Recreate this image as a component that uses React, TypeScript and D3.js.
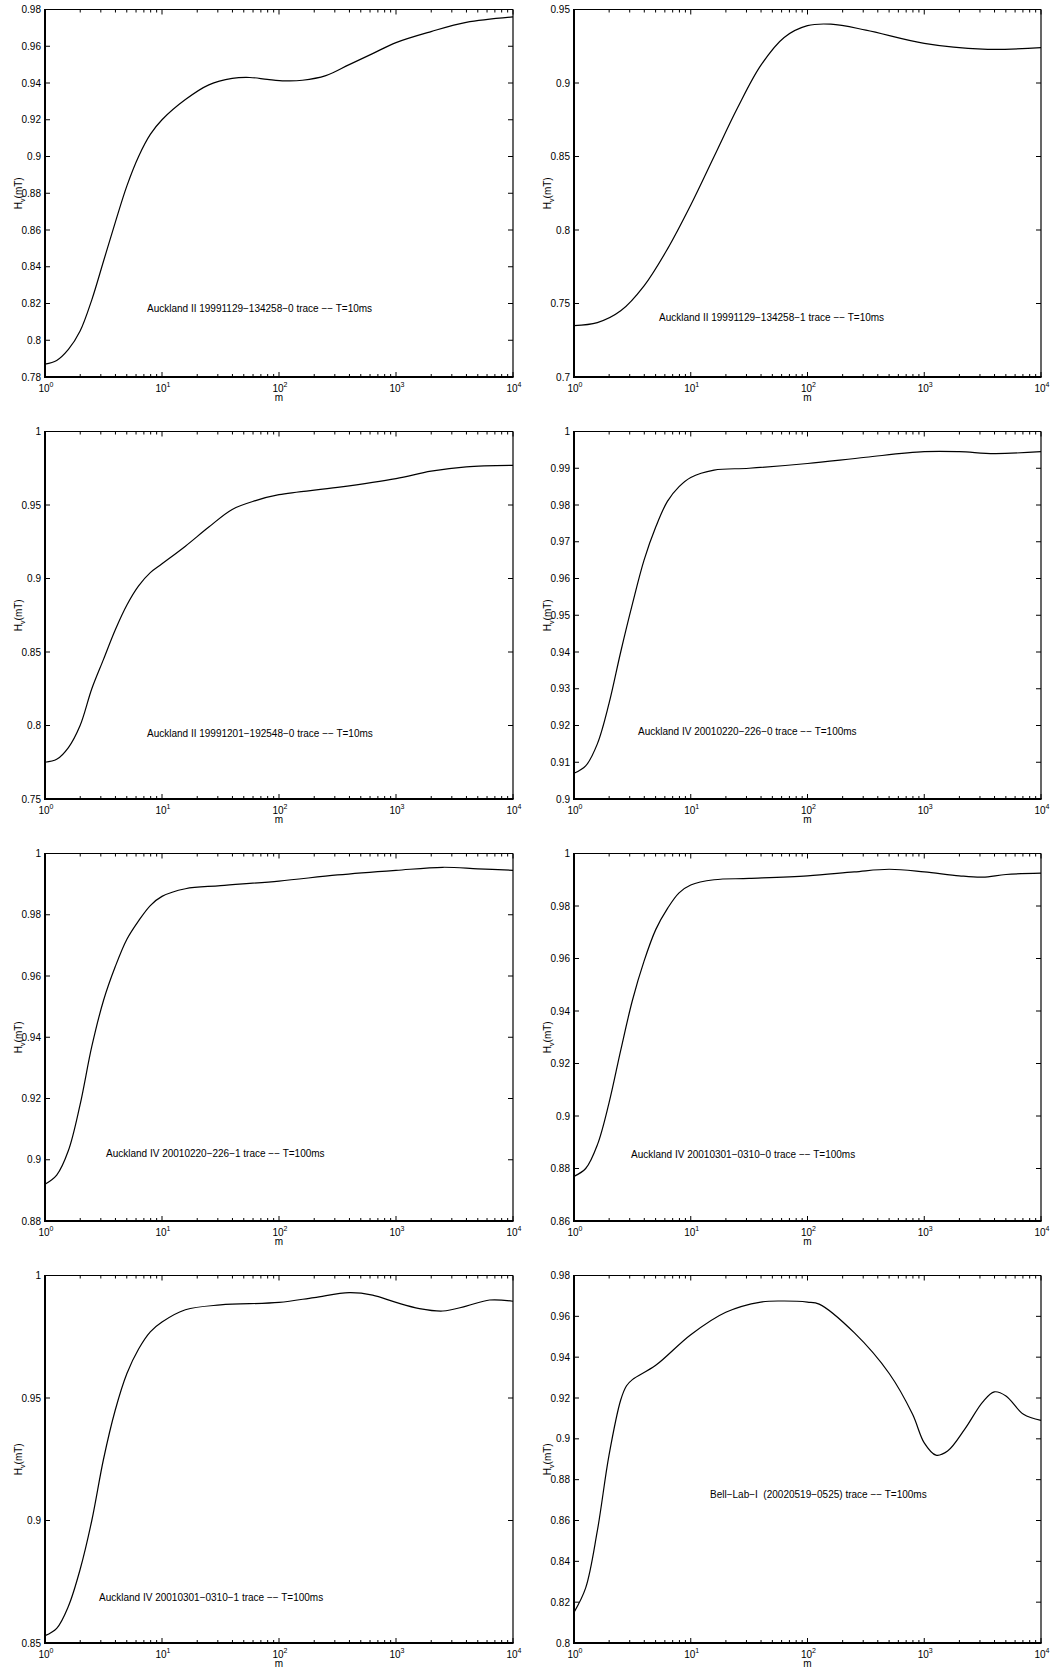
import React from "react";
import * as d3 from "d3";

// ---------- DATA ----------
// x positions given as exponents of m (m = 10^e)
const p1Exp = [0, 0.1, 0.2, 0.3, 0.4, 0.5, 0.6, 0.7, 0.8, 0.9, 1.0, 1.2, 1.4, 1.6, 1.75, 1.9, 2.05, 2.2, 2.4, 2.6, 2.8, 3.0, 3.3, 3.6, 4.0];
const p1Val = [0.787, 0.789, 0.795, 0.805, 0.822, 0.843, 0.864, 0.884, 0.900, 0.912, 0.920, 0.931, 0.939, 0.9425, 0.943, 0.942, 0.9412, 0.9415, 0.944, 0.950, 0.956, 0.962, 0.968, 0.973, 0.976];

const p2Exp = [0, 0.2, 0.4, 0.6, 0.8, 1.0, 1.2, 1.4, 1.6, 1.8, 2.0, 2.2, 2.5, 3.0, 3.5, 4.0];
const p2Val = [0.735, 0.737, 0.745, 0.762, 0.787, 0.817, 0.850, 0.883, 0.912, 0.931, 0.939, 0.940, 0.936, 0.927, 0.923, 0.924];

const p3Exp = [0, 0.1, 0.2, 0.3, 0.4, 0.5, 0.6, 0.7, 0.8, 0.9, 1.0, 1.2, 1.4, 1.6, 1.8, 2.0, 2.5, 3.0, 3.3, 3.6, 4.0];
const p3Val = [0.775, 0.777, 0.785, 0.800, 0.825, 0.845, 0.865, 0.882, 0.895, 0.904, 0.910, 0.922, 0.935, 0.947, 0.953, 0.957, 0.962, 0.968, 0.973, 0.976, 0.977];

const p4Exp = [0, 0.1, 0.2, 0.3, 0.4, 0.5, 0.6, 0.7, 0.8, 0.9, 1.0, 1.2, 1.5, 2.0, 2.5, 3.0, 3.3, 3.6, 4.0];
const p4Val = [0.907, 0.909, 0.915, 0.926, 0.940, 0.953, 0.965, 0.974, 0.981, 0.985, 0.9875, 0.9895, 0.990, 0.9913, 0.993, 0.9945, 0.9945, 0.994, 0.9945];

const p5Exp = [0, 0.1, 0.2, 0.3, 0.4, 0.5, 0.6, 0.7, 0.8, 0.9, 1.0, 1.2, 1.5, 2.0, 2.5, 3.0, 3.4, 3.7, 4.0];
const p5Val = [0.892, 0.895, 0.903, 0.918, 0.937, 0.952, 0.963, 0.972, 0.978, 0.983, 0.986, 0.9885, 0.9895, 0.991, 0.993, 0.9945, 0.9955, 0.995, 0.9945];

const p6Exp = [0, 0.1, 0.2, 0.3, 0.4, 0.5, 0.6, 0.7, 0.8, 0.9, 1.0, 1.2, 1.5, 2.0, 2.4, 2.7, 3.0, 3.3, 3.5, 3.7, 4.0];
const p6Val = [0.877, 0.880, 0.889, 0.905, 0.925, 0.944, 0.959, 0.971, 0.979, 0.985, 0.988, 0.990, 0.9905, 0.9915, 0.993, 0.994, 0.993, 0.9915, 0.991, 0.992, 0.9925];

const p7Exp = [0, 0.1, 0.2, 0.3, 0.4, 0.5, 0.6, 0.7, 0.8, 0.9, 1.0, 1.2, 1.5, 2.0, 2.3, 2.6, 2.8, 3.0, 3.2, 3.4, 3.6, 3.8, 4.0];
const p7Val = [0.853, 0.856, 0.865, 0.880, 0.900, 0.925, 0.945, 0.960, 0.970, 0.977, 0.981, 0.986, 0.988, 0.989, 0.991, 0.993, 0.992, 0.989, 0.9865, 0.9855, 0.9875, 0.990, 0.9895];

const p8Exp = [0, 0.1, 0.2, 0.3, 0.4, 0.45, 0.5, 0.7, 1.0, 1.3, 1.6, 1.8, 2.0, 2.1, 2.4, 2.7, 2.9, 3.0, 3.1, 3.2, 3.35, 3.5, 3.6, 3.7, 3.85, 4.0];
const p8Val = [0.815, 0.827, 0.855, 0.892, 0.919, 0.926, 0.929, 0.936, 0.951, 0.962, 0.967, 0.9675, 0.967, 0.966, 0.952, 0.932, 0.912, 0.898, 0.892, 0.894, 0.905, 0.918, 0.923, 0.921, 0.912, 0.909];

const panelTitles = [
  "Auckland II 19991129−134258−0 trace −− T=10ms",
  "Auckland II 19991129−134258−1 trace −− T=10ms",
  "Auckland II 19991201−192548−0 trace −− T=10ms",
  "Auckland IV 20010220−226−0 trace −− T=100ms",
  "Auckland IV 20010220−226−1 trace −− T=100ms",
  "Auckland IV 20010301−0310−0 trace −− T=100ms",
  "Auckland IV 20010301−0310−1 trace −− T=100ms",
  "Bell−Lab−I \u00A0(20020519−0525) trace −− T=100ms",
];

const yDomains: [number, number][] = [
  [0.78, 0.98], [0.7, 0.95], [0.75, 1], [0.9, 1], [0.88, 1], [0.86, 1], [0.85, 1], [0.8, 0.98],
];
const yTickSets: number[][] = [
  [0.78, 0.8, 0.82, 0.84, 0.86, 0.88, 0.9, 0.92, 0.94, 0.96, 0.98],
  [0.7, 0.75, 0.8, 0.85, 0.9, 0.95],
  [0.75, 0.8, 0.85, 0.9, 0.95, 1],
  [0.9, 0.91, 0.92, 0.93, 0.94, 0.95, 0.96, 0.97, 0.98, 0.99, 1],
  [0.88, 0.9, 0.92, 0.94, 0.96, 0.98, 1],
  [0.86, 0.88, 0.9, 0.92, 0.94, 0.96, 0.98, 1],
  [0.85, 0.9, 0.95, 1],
  [0.8, 0.82, 0.84, 0.86, 0.88, 0.9, 0.92, 0.94, 0.96, 0.98],
];
const xMajorExps = [0, 1, 2, 3, 4];

const seriesExp = [p1Exp, p2Exp, p3Exp, p4Exp, p5Exp, p6Exp, p7Exp, p8Exp];
const seriesVal = [p1Val, p2Val, p3Val, p4Val, p5Val, p6Val, p7Val, p8Val];

// ---------- LAYOUT ----------
const W = 1052;
const H = 1676;
const colX = [[45, 513], [574, 1041]];
const rowTop0 = 9.5;
const rowPeriod = 422;
const axH = 367.5;
// annotation text start offsets within each axes (px from left, baseline px from top)
const titlePos: [number, number][] = [
  [102, 302], [85, 311], [102, 305], [64, 303], [61, 303], [57, 304], [54, 325], [136, 222],
];
const FONT = "'Liberation Sans', Arial, Helvetica, sans-serif";

function fmt(v: number) {
  return String(+v.toFixed(4));
}

function Panel({ idx }: { idx: number }) {
  const col = idx % 2;
  const row = Math.floor(idx / 2);
  const x0 = colX[col][0];
  const x1 = colX[col][1];
  const y0 = rowTop0 + row * rowPeriod;
  const y1 = y0 + axH;
  const xs = d3.scaleLog().domain([1, 1e4]).range([x0, x1]);
  const ys = d3.scaleLinear().domain(yDomains[idx]).range([y1, y0]);
  const pts: [number, number][] = seriesExp[idx].map((e, i) => [Math.pow(10, e), seriesVal[idx][i]]);
  const line = d3
    .line<[number, number]>()
    .x((d) => xs(d[0]))
    .y((d) => ys(d[1]))
    .curve(d3.curveCatmullRom.alpha(0.5));

  const minor: number[] = [];
  for (let dec = 0; dec < 4; dec++) {
    for (let k = 2; k <= 9; k++) minor.push(k * Math.pow(10, dec));
  }
  const majT = 5;
  const minT = 3;
  const cx = (x0 + x1) / 2;
  const cy = (y0 + y1) / 2;
  return (
    <g>
      {/* curve */}
      <path d={line(pts) || ""} fill="none" stroke="#000" strokeWidth={1.2} />
      {/* ticks */}
      {yTickSets[idx].map((t) => (
        <g key={"y" + t}>
          <line x1={x0} x2={x0 + majT} y1={ys(t)} y2={ys(t)} stroke="#000" strokeWidth={1} />
          <line x1={x1} x2={x1 - majT} y1={ys(t)} y2={ys(t)} stroke="#000" strokeWidth={1} />
          <text x={x0 - 4} y={ys(t)} dy="0.35em" textAnchor="end" fontSize={10} fontFamily={FONT}>
            {fmt(t)}
          </text>
        </g>
      ))}
      {minor.map((m) => (
        <g key={"m" + m}>
          <line x1={xs(m)} x2={xs(m)} y1={y1} y2={y1 - minT} stroke="#000" strokeWidth={1} />
          <line x1={xs(m)} x2={xs(m)} y1={y0} y2={y0 + minT} stroke="#000" strokeWidth={1} />
        </g>
      ))}
      {xMajorExps.map((e) => {
        const xv = xs(Math.pow(10, e));
        return (
          <g key={"x" + e}>
            <line x1={xv} x2={xv} y1={y1} y2={y1 - majT} stroke="#000" strokeWidth={1} />
            <line x1={xv} x2={xv} y1={y0} y2={y0 + majT} stroke="#000" strokeWidth={1} />
            <text x={xv + 1} y={y1 + 15} textAnchor="middle" fontSize={10} fontFamily={FONT}>
              10
              <tspan dy={-5} fontSize={7}>
                {e}
              </tspan>
            </text>
          </g>
        );
      })}
      {/* box */}
      <line x1={x0} x2={x1} y1={y0} y2={y0} stroke="#000" strokeWidth={1.2} />
      <line x1={x1} x2={x1} y1={y0} y2={y1} stroke="#000" strokeWidth={1.2} />
      <line x1={x0} x2={x1 + 0.6} y1={y1} y2={y1} stroke="#000" strokeWidth={2} />
      <line x1={x0} x2={x0} y1={y0 - 0.6} y2={y1 + 1} stroke="#000" strokeWidth={2} />
      {/* x label */}
      <text x={cx} y={y1 + 24} textAnchor="middle" fontSize={10} fontFamily={FONT}>
        m
      </text>
      {/* y label */}
      <text
        transform={`translate(${x0 - 23},${cy}) rotate(-90)`}
        textAnchor="middle"
        fontSize={10}
        fontFamily={FONT}
      >
        H
        <tspan dy={3} fontSize={7}>
          v
        </tspan>
        <tspan dy={-3}>(mT)</tspan>
      </text>
      {/* annotation */}
      <text x={x0 + titlePos[idx][0]} y={y0 + titlePos[idx][1]} fontSize={10} fontFamily={FONT}>
        {panelTitles[idx]}
      </text>
    </g>
  );
}

export default function App() {
  return (
    <svg
      width={W}
      height={H}
      viewBox={`0 0 ${W} ${H}`}
      style={{ position: "absolute", left: 0, top: 0, background: "#fff" }}
    >
      <rect x={0} y={0} width={W} height={H} fill="#fff" />
      {d3.range(8).map((i) => (
        <Panel key={i} idx={i} />
      ))}
    </svg>
  );
}
